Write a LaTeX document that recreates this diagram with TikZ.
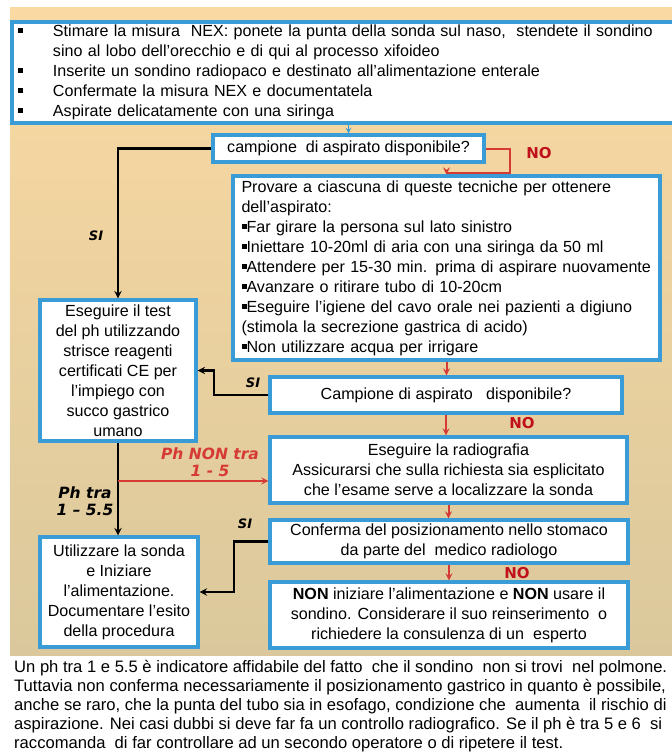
\documentclass[tikz,border=0pt]{standalone}
\usepackage{fontspec}
\setmainfont{Liberation Sans}
\newfontfamily\heavyfont{DejaVu Sans}
\usetikzlibrary{calc}

\definecolor{boxblue}{RGB}{58,156,214}
\definecolor{arrowred}{RGB}{214,58,52}
\definecolor{nored}{RGB}{192,16,28}
\definecolor{bgtop}{RGB}{250,217,162}
\definecolor{bgbottom}{RGB}{218,200,156}

\newcommand{\boxfont}{\fontsize{16.1}{20}\selectfont}
\newcommand{\sqb}{\rule[3.5pt]{5pt}{5pt}}

\begin{document}
\begin{tikzpicture}[x=1pt,y=-1pt]

    \tikzstyle{block} = [rectangle, draw=boxblue, line width=3.4pt, fill=white, align=center, inner sep=3pt, font=\boxfont]
    \tikzstyle{arrow} = [line width=2.2pt,->,>=stealth]
    \tikzstyle{noarrow} = [arrow, draw=arrowred, line width=2pt]
    \tikzstyle{nolabel} = [text=nored, font=\heavyfont\bfseries\fontsize{15}{15}\selectfont]
    \tikzstyle{silabel} = [font=\heavyfont\bfseries\itshape\fontsize{13}{13}\selectfont]
    \tikzstyle{phlabel} = [align=center, font=\heavyfont\bfseries\itshape\fontsize{15.5}{17}\selectfont]

    \useasboundingbox (0,0) rectangle (672,756);
    \shade [top color=bgtop, bottom color=bgbottom] (10,7) rectangle (672,655);

    \node (prep) [block, minimum width=668pt, minimum height=101pt, text width=656pt, align=left] at (346,72.5)
        {\makebox[35pt][l]{\sqb}Stimare la misura\ \ NEX: ponete la punta della sonda sul naso,\ \ stendete il sondino\\
         \hspace*{35pt}sino al lobo dell’orecchio e di qui al processo xifoideo\\
         \makebox[35pt][l]{\sqb}Inserite un sondino radiopaco e destinato all’alimentazione enterale\\
         \makebox[35pt][l]{\sqb}Confermate la misura NEX e documentatela\\
         \makebox[35pt][l]{\sqb}Aspirate delicatamente con una siringa};

    \node (ask1) [block, minimum width=271pt, minimum height=27pt] at (348.5,148.5) {campione\ \ di aspirato disponibile?};

    \node (tries) [block, minimum width=427pt, minimum height=184pt, text width=410pt, align=left] at (446.5,268)
        {Provare a ciascuna di queste tecniche per ottenere\\
         dell’aspirato:\\
         \sqb Far girare la persona sul lato sinistro\\
         \sqb Iniettare 10-20ml di aria con una siringa da 50 ml\\
         \sqb Attendere per 15-30 min. prima di aspirare nuovamente\\
         \sqb Avanzare o ritirare tubo di 10-20cm\\
         \sqb Eseguire l’igiene del cavo orale nei pazienti a digiuno\\
         (stimola la secrezione gastrica di acido)\\
         \sqb Non utilizzare acqua per irrigare};

    \node (phtest) [block, minimum width=156pt, minimum height=141pt] at (118,370.5)
        {Eseguire il test\\ del ph utilizzando\\ strisce reagenti\\ certificati CE per\\ l’impiego con\\ succo gastrico\\ umano};

    \node (ask2) [block, minimum width=352pt, minimum height=36pt] at (446,395) {Campione di aspirato\ \ \ disponibile?};

    \node (xray) [block, minimum width=357pt, minimum height=66pt] at (448.5,470)
        {Eseguire la radiografia\\ Assicurarsi che sulla richiesta sia esplicitato\\ che l’esame serve a localizzare la sonda};

    \node (confirm) [block, minimum width=358pt, minimum height=43pt] at (449,541.5)
        {Conferma del posizionamento nello stomaco\\ da parte del\ \ medico radiologo};

    \node (use) [block, minimum width=158pt, minimum height=110pt] at (119,592)
        {Utilizzare la sonda\\ e Iniziare\\ l’alimentazione.\\ Documentare l’esito\\ della procedura};

    \node (stop) [block, minimum width=358pt, minimum height=66pt] at (449,615)
        {\textbf{NON} iniziare l’alimentazione e \textbf{NON} usare il\\ sondino. Considerare il suo reinserimento\ \ o\\ richiedere la consulenza di un\ \ esperto};

    \node (note) [anchor=north west, align=left, inner sep=0pt, font=\fontsize{16.6}{19}\selectfont] at (14,660)
        {Un ph tra 1 e 5.5 è indicatore affidabile del fatto\ \ che il sondino\ \ non si trovi\ \ nel polmone.\\
         Tuttavia non conferma necessariamente il posizionamento gastrico in quanto è possibile,\\
         anche se raro, che la punta del tubo sia in esofago, condizione che\ \ aumenta\ \ il rischio di\\
         aspirazione. Nei casi dubbi si deve far fa un controllo radiografico. Se il ph è tra 5 e 6\ \ si\\
         raccomanda\ \ di far controllare ad un secondo operatore o di ripetere il test.};

    % labels
    \node (no1) [nolabel] at (539,153) {NO};
    \node (no2) [nolabel] at (522,423) {NO};
    \node (no3) [nolabel] at (517,573) {NO};
    \node (si1) [silabel] at (96,236) {SI};
    \node (si2) [silabel] at (253,383) {SI};
    \node (si3) [silabel] at (245,524) {SI};
    \node (phno) [phlabel, text=arrowred] at (210,462) {Ph NON tra\\ 1 - 5};
    \node (phok) [phlabel] at (85,501) {Ph tra\\ 1 – 5.5};

    \coordinate (redin) at ([yshift=-11pt]xray.west);

    \draw [->, >=stealth, boxblue, line width=1.4pt] (ask1.north |- prep.south) -- (ask1.north);
    \draw [noarrow] (ask1.east) -- ++(24,0) -- ++(0,24) -| (tries.north);
    \draw [arrow] (ask1.west) -| (phtest.north);
    \draw [noarrow] (tries.south) -- (tries.south |- ask2.north);
    \draw [arrow] (ask2.west) -- ++(-54,0) |- (phtest.east);
    \draw [noarrow] (ask2.south) -- (ask2.south |- xray.north);
    \draw [arrow] (phtest.south) -- (phtest.south |- use.north);
    \draw [noarrow] (phtest.south |- redin) -- (redin);
    \draw [noarrow] (xray.south) -- (xray.south |- confirm.north);
    \draw [arrow] (confirm.west) -- ++(-34,0) |- (use.east);
    \draw [noarrow] (confirm.south) -- (confirm.south |- stop.north);

\end{tikzpicture}
\end{document}
